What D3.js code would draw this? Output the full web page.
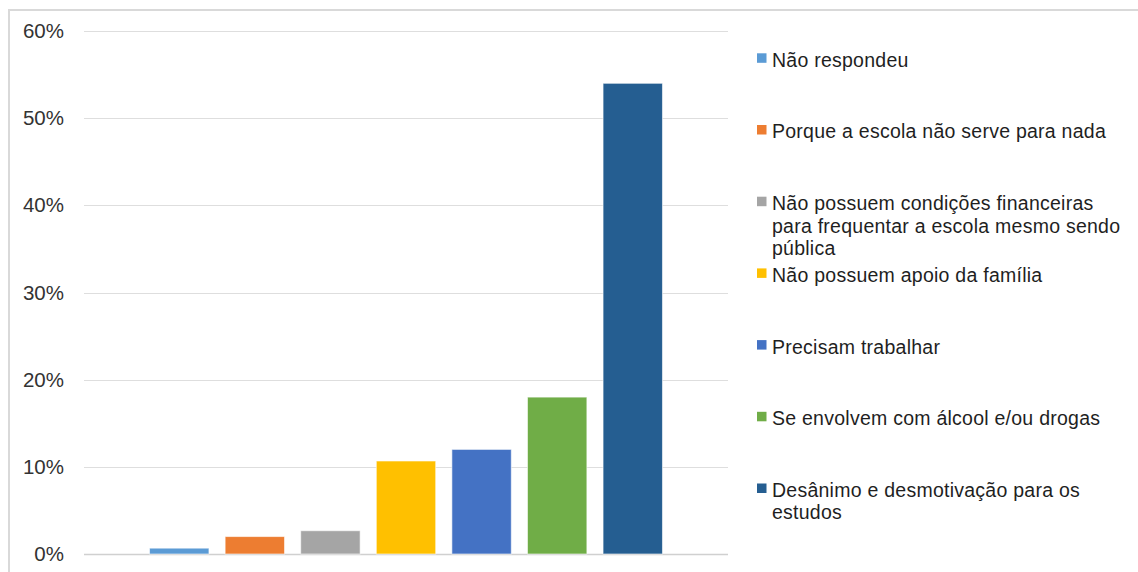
<!DOCTYPE html>
<html lang="pt">
<head>
<meta charset="utf-8">
<script src="https://cdn.jsdelivr.net/npm/d3@7.9.0/dist/d3.min.js"></script>
<style>
  html, body { margin: 0; padding: 0; background: #fff; }
  svg { display: block; font-family: "Liberation Sans", Arial, sans-serif; }
</style>
</head>
<body>
<svg id="chart" width="1138" height="572"></svg>
<script>
// Series (one bar each), in legend order
const categories = [
  "Não respondeu",
  "Porque a escola não serve para nada",
  "Não possuem condições financeiras\npara frequentar a escola mesmo sendo\npública",
  "Não possuem apoio da família",
  "Precisam trabalhar",
  "Se envolvem com álcool e/ou drogas",
  "Desânimo e desmotivação para os\nestudos"
];
const values = [0.0067, 0.02, 0.0267, 0.1067, 0.12, 0.18, 0.54];
const colors = ["#5B9BD5", "#ED7D31", "#A5A5A5", "#FFC000", "#4472C4", "#70AD47", "#255E91"];
const yTicks = [0, 0.1, 0.2, 0.3, 0.4, 0.5, 0.6];

const svg = d3.select("#chart");

// Outer frame
svg.append("rect")
  .attr("x", 9).attr("y", 10)
  .attr("width", 1140).attr("height", 580)
  .attr("fill", "none")
  .attr("stroke", "#d9d9d9")
  .attr("stroke-width", 2);

const plot = { left: 84, right: 728, top: 31, bottom: 554 };

const y = d3.scaleLinear()
  .domain([0, 0.6])
  .range([plot.bottom, plot.top]);

const x = d3.scaleBand()
  .domain(categories)
  .range([plot.left, plot.right])
  .paddingInner(0.214)
  .paddingOuter(0.867);

// Gridlines
svg.append("g")
  .selectAll("line")
  .data(yTicks)
  .join("line")
  .attr("x1", plot.left)
  .attr("x2", plot.right)
  .attr("y1", (d) => Math.round(y(d)) + 0.5)
  .attr("y2", (d) => Math.round(y(d)) + 0.5)
  .attr("stroke", (d) => (d === 0 ? "#d0d0d0" : "#dedede"))
  .attr("stroke-width", (d) => (d === 0 ? 1.5 : 1.2));

// Y axis labels
const yAxis = d3.axisLeft(y)
  .tickValues(yTicks)
  .tickFormat(d3.format(".0%"))
  .tickSize(0)
  .tickPadding(0);

svg.append("g")
  .attr("transform", "translate(64,0)")
  .call(yAxis)
  .call((g) => g.select(".domain").remove())
  .call((g) => g.selectAll("text")
    .attr("font-size", "20.5px")
    .attr("font-family", "Liberation Sans, Arial, sans-serif")
    .attr("fill", "#333333"));

// Bars
svg.append("g")
  .selectAll("rect")
  .data(values)
  .join("rect")
  .attr("x", (d, i) => x(categories[i]))
  .attr("width", x.bandwidth())
  .attr("y", (d) => y(d))
  .attr("height", (d) => y(0) - y(d))
  .attr("fill", (d, i) => colors[i])
  .attr("stroke", "#ffffff")
  .attr("stroke-opacity", 0.6)
  .attr("stroke-width", 1);

// Legend
const legendX = 757;
const legendTop = 66.7;
const legendStep = 71.7;
const lineHeight = 22.4;

const legend = svg.append("g");

categories.forEach((label, i) => {
  const baseY = legendTop + i * legendStep;
  const item = legend.append("g");

  item.append("rect")
    .attr("x", legendX)
    .attr("y", baseY - 13.4)
    .attr("width", 9.5)
    .attr("height", 9.5)
    .attr("fill", colors[i]);

  const text = item.append("text")
    .attr("x", legendX + 15)
    .attr("y", baseY)
    .attr("font-size", "19.5px")
    .attr("letter-spacing", "0.25px")
    .attr("fill", "#1f1f1f");

  label.split("\n").forEach((line, j) => {
    text.append("tspan")
      .attr("x", legendX + 15)
      .attr("y", baseY + j * lineHeight)
      .text(line);
  });
});
</script>
</body>
</html>
